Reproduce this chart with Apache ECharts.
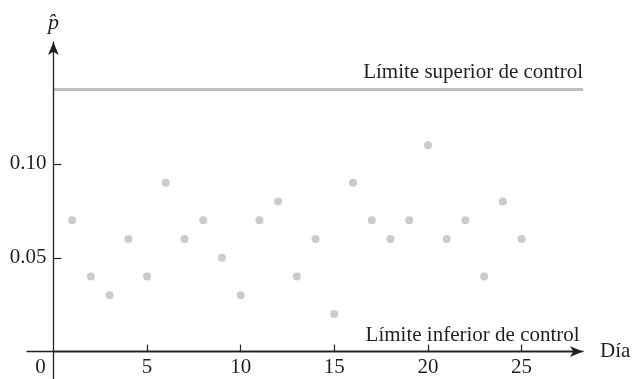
<!DOCTYPE html>
<html>
<head>
<meta charset="utf-8">
<script src="https://cdn.jsdelivr.net/npm/echarts@6/dist/echarts.min.js"></script>
<style>
  html, body { margin: 0; padding: 0; background: #fff; }
  #chart { width: 633px; height: 379px; }
</style>
</head>
<body>
<div id="chart"></div>
<script>
// Daily proportion of defectives (p-hat) for 25 days
var days = [1, 2, 3, 4, 5, 6, 7, 8, 9, 10, 11, 12, 13, 14, 15, 16, 17, 18, 19, 20, 21, 22, 23, 24, 25];
var pHat = [0.07, 0.04, 0.03, 0.06, 0.04, 0.09, 0.06, 0.07, 0.05, 0.03, 0.07, 0.08, 0.04, 0.06, 0.02,
            0.09, 0.07, 0.06, 0.07, 0.11, 0.06, 0.07, 0.04, 0.08, 0.06];
var xTicks = [5, 10, 15, 20, 25];
var xLabels = [0, 5, 10, 15, 20, 25];
var yTicks = [0.05, 0.10];
var upperLimit = 0.14;
var lowerLimit = 0;

var font = '"Liberation Serif", "DejaVu Serif", serif';
var ink = '#231f20';
var grey = '#bcbec0';
var fs = 21;

var points = days.map(function (d, i) { return [d, pHat[i]]; });

var myChart = echarts.init(document.getElementById('chart'));

var options = {
    animation: false,
    grid: { left: 27, right: 50, top: 42, bottom: 0, outerBoundsMode: 'none', containLabel: false },
    xAxis: {
        type: 'value',
        min: -1.41,
        max: 28.28,
        offset: -27.4,   // lift the axis from the grid bottom to y = 0
        z: 5,
        name: 'Día',
        nameLocation: 'end',
        nameGap: 17,
        nameTextStyle: { fontFamily: font, fontSize: fs, color: ink },
        splitLine: { show: false },
        axisLine: {
            onZero: false,
            symbol: ['none', 'arrow'],
            symbolSize: [8, 13],
            lineStyle: { color: ink, width: 1.3 }
        },
        axisTick: {
            inside: true,
            length: 7,
            customValues: xTicks,
            lineStyle: { color: ink, width: 1.2 }
        },
        axisLabel: {
            customValues: xLabels,
            margin: 5,
            fontFamily: font,
            fontSize: fs,
            color: ink,
            formatter: function (v) {
                return v === 0 ? '{z|0}' : String(v);
            },
            rich: {
                z: { fontFamily: font, fontSize: fs, color: ink, padding: [0, 26, 0, 0] }
            }
        }
    },
    yAxis: {
        type: 'value',
        min: -0.0146,
        max: 0.165,
        offset: -26.4,   // move the axis right to x = 0
        z: 5,
        name: 'p\u0302',
        nameLocation: 'end',
        nameGap: 8,
        nameTextStyle: { fontFamily: font, fontSize: 22, fontStyle: 'italic', color: ink },
        splitLine: { show: false },
        axisLine: {
            onZero: false,
            symbol: ['none', 'arrow'],
            symbolSize: [8, 13],
            lineStyle: { color: ink, width: 1.3 }
        },
        axisTick: {
            inside: true,
            length: 8,
            customValues: yTicks,
            lineStyle: { color: ink, width: 1.2 }
        },
        axisLabel: {
            customValues: yTicks,
            margin: 7,
            fontFamily: font,
            fontSize: fs,
            color: ink,
            formatter: function (v) { return v.toFixed(2); }
        }
    },
    series: [{
        type: 'scatter',
        symbol: 'circle',
        symbolSize: 8,
        itemStyle: { color: grey },
        data: points,
        markLine: {
            silent: true,
            symbol: ['none', 'none'],
            lineStyle: { color: grey, width: 3, type: 'solid' },
            label: {
                position: 'insideEndTop',
                distance: [0, 6],
                fontFamily: font,
                fontSize: fs,
                color: ink
            },
            data: [
                [{ coord: [0, upperLimit], name: 'Límite superior de control' },
                 { coord: [28.28, upperLimit] }],
                [{ coord: [0, lowerLimit], name: 'Límite inferior de control' },
                 { coord: [28.1, lowerLimit] }]
            ],
            emphasis: { disabled: true }
        }
    }]
};

myChart.setOption(options);
</script>
</body>
</html>
